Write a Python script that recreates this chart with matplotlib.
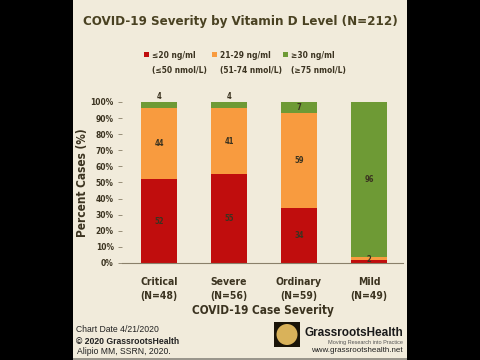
import matplotlib
matplotlib.use('Agg')
import matplotlib.pyplot as plt
from matplotlib.patches import Rectangle, Ellipse
import numpy as np

plt.rcParams['font.family'] = ['DejaVu Sans']
plt.rcParams['font.stretch'] = 'condensed'

severity = ['Critical', 'Severe', 'Ordinary', 'Mild']
counts = ['(N=48)', '(N=56)', '(N=59)', '(N=49)']
low = [52, 55, 34, 2]      # <=20 ng/ml
mid = [44, 41, 59, 2]      # 21-29 ng/ml
high = [4, 4, 7, 96]       # >=30 ng/ml
legend_top = ['≤20 ng/ml', '21-29 ng/ml', '≥30 ng/ml']
legend_bot = ['(≤50 nmol/L)', '(51-74 nmol/L)', '(≥75 nmol/L)']

red = '#c00d0d'
orange = '#f89b3f'
green = '#6e9a35'
bg = '#f1ebdb'
ink = '#3b3320'

W, H = 480, 360
fig = plt.figure(figsize=(4.8, 3.6), dpi=100, facecolor='black')
fig.patches.append(Rectangle((73 / W, 0), (407 - 73) / W, 1, transform=fig.transFigure,
                             facecolor=bg, edgecolor='none', zorder=-5))

ax = fig.add_axes([122 / W, 1 - 263 / H, (403 - 122) / W, (263 - 102) / H])
ax.set_facecolor('none')
x = np.arange(len(severity))
wbar = 0.51
ax.bar(x, low, wbar, color=red, zorder=2)
ax.bar(x, mid, wbar, bottom=low, color=orange, zorder=2)
ax.bar(x, high, wbar, bottom=np.add(low, mid), color=green, zorder=2)

lab_kw = dict(ha='center', va='center', fontsize=5.5, fontweight='bold', color=ink)
for i in range(len(severity)):
    if low[i] > 5:
        ax.text(x[i], low[i] / 2, str(low[i]), **lab_kw)
    if mid[i] > 5:
        ax.text(x[i], low[i] + mid[i] / 2, str(mid[i]), **lab_kw)
    else:
        ax.text(x[i], low[i] + mid[i] / 2 - 1, str(mid[i]), **lab_kw)
    if high[i] > 5:
        ax.text(x[i], low[i] + mid[i] + high[i] / 2, str(high[i]), **lab_kw)
    else:
        ax.text(x[i], 103.5, str(high[i]), **lab_kw)

ax.set_xlim(-0.53, 3.486)
ax.set_ylim(0, 100)
ax.set_yticks(np.arange(0, 101, 10))
ax.set_yticklabels(['%d%%' % v for v in range(0, 101, 10)], fontsize=6,
                   fontweight='bold', color=ink)
ax.set_xticks(x)
ax.set_xticklabels([s + '\n' + n for s, n in zip(severity, counts)], fontsize=7.5,
                   fontweight='bold', color=ink, linespacing=1.5)
ax.tick_params(axis='x', length=0, pad=10)
ax.tick_params(axis='y', length=3, width=0.6, color='#8a806a', pad=3)
for s in ['top', 'right', 'left']:
    ax.spines[s].set_visible(False)
ax.spines['bottom'].set_color('#8a806a')
ax.spines['bottom'].set_linewidth(0.8)
ax.set_ylabel('Percent Cases (%)', fontsize=8.5, fontweight='bold', color=ink, labelpad=1)
ax.set_xlabel('COVID-19 Case Severity', fontsize=8.5, fontweight='bold', color=ink, labelpad=2)

fig.text(240 / W, 1 - 22 / H, 'COVID-19 Severity by Vitamin D Level (N=212)', ha='center',
         va='center', fontsize=9.5, fontweight='bold', color='#4a4222')

# legend
leg_cols = [red, orange, green]
sq_x = [144, 212, 283]
for c, sx, t1, t2 in zip(leg_cols, sq_x, legend_top, legend_bot):
    fig.patches.append(Rectangle((sx / W, 1 - 57 / H), 5 / W, 5 / H,
                                 transform=fig.transFigure, facecolor=c, edgecolor='none'))
    fig.text((sx + 8) / W, 1 - 55 / H, t1, ha='left', va='center', fontsize=6,
             fontweight='bold', color=ink)
    fig.text((sx + 8) / W, 1 - 70 / H, t2, ha='left', va='center', fontsize=6,
             fontweight='bold', color=ink)

# footer
foot = dict(family=['Liberation Sans', 'DejaVu Sans'], stretch='normal', fontsize=6.2,
            color='#222222', ha='left', va='center')
fig.text(76 / W, 1 - 330 / H, 'Chart Date 4/21/2020', **foot)
fig.text(76 / W, 1 - 341 / H, '© 2020 GrassrootsHealth', fontweight='bold', **foot)
fig.text(77 / W, 1 - 352 / H, 'Alipio MM, SSRN, 2020.', **foot)
fig.patches.append(Rectangle((73 / W, 0), (407 - 73) / W, 2 / H, transform=fig.transFigure,
                             facecolor='#9a968c', edgecolor='none'))

# logo
fig.patches.append(Rectangle((274 / W, 1 - 347 / H), 26 / W, 25 / H,
                             transform=fig.transFigure, facecolor='#1a1408', edgecolor='none'))
fig.patches.append(Ellipse((287 / W, 1 - 334.5 / H), 21 / W, 21 / H, transform=fig.transFigure,
                           facecolor='#d9b25a', edgecolor='none'))
logo = dict(family=['Liberation Sans', 'DejaVu Sans'], stretch='normal', ha='right', va='center')
fig.text(403 / W, 1 - 333 / H, 'GrassrootsHealth', fontsize=8.5, fontweight='bold',
         color='#1a1a1a', **logo)
fig.text(403 / W, 1 - 342.5 / H, 'Moving Research into Practice', fontsize=4,
         color='#555555', **logo)
fig.text(403 / W, 1 - 350.5 / H, 'www.grassrootshealth.net', fontsize=5.8,
         color='#222222', **logo)

fig.savefig('out.png', dpi=100, facecolor='black')
